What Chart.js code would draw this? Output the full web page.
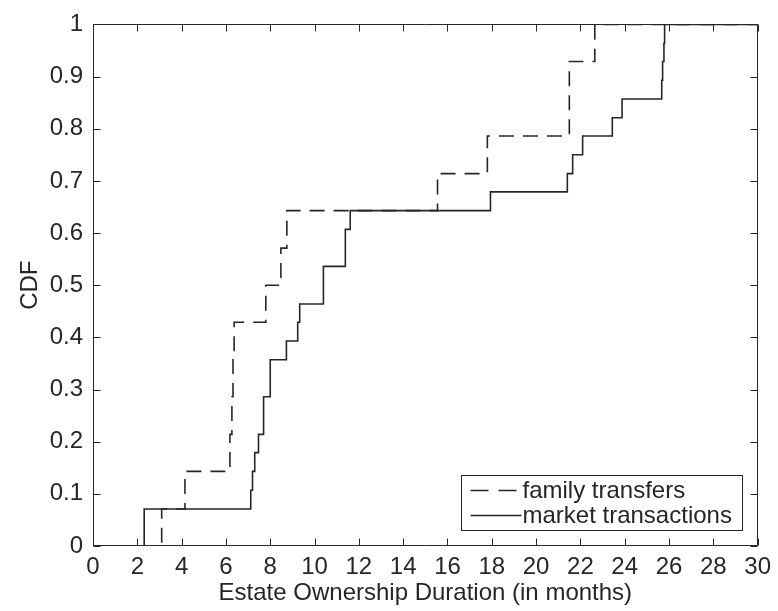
<!DOCTYPE html>
<html>
<head>
<meta charset="utf-8">
<script src="https://cdn.jsdelivr.net/npm/chart.js@4.4.1/dist/chart.umd.min.js"></script>
<style>
  body { margin: 0; background: #fff; }
</style>
</head>
<body>
<canvas id="cdfChart" width="778" height="611"></canvas>
<script>
// data
const familyMonths = [0, 3.1, 4.15, 6.18, 6.27, 6.32, 6.37, 7.8, 8.48, 8.75, 15.55, 17.8, 21.5, 22.65, 30];
const familyCdf    = [0, 0.071, 0.143, 0.214, 0.286, 0.357, 0.429, 0.5, 0.571, 0.643, 0.714, 0.786, 0.929, 1, 1];

const marketMonths = [0, 2.31, 7.12, 7.2, 7.3, 7.47, 7.7, 8.0, 8.73, 9.24, 9.33, 10.4, 11.39, 11.61,
                      17.94, 21.41, 21.65, 22.1, 23.44, 23.88, 25.67, 25.71, 25.77, 25.8, 30];
const marketCdf    = [0, 0.071, 0.107, 0.143, 0.179, 0.214, 0.286, 0.357, 0.393, 0.429, 0.464, 0.536, 0.607, 0.643,
                      0.679, 0.714, 0.75, 0.786, 0.821, 0.857, 0.893, 0.929, 0.964, 1, 1];

const xTicks = [0, 2, 4, 6, 8, 10, 12, 14, 16, 18, 20, 22, 24, 26, 28, 30];
const yTicks = [0, 0.1, 0.2, 0.3, 0.4, 0.5, 0.6, 0.7, 0.8, 0.9, 1];

const INK = '#262626';

function toPoints(xs, ys) {
  return xs.map((x, i) => ({ x: x, y: ys[i] }));
}

// box + inward ticks + legend, matlab style
const matlabAxes = {
  id: 'matlabAxes',
  afterDraw(chart) {
    const ctx = chart.ctx;
    const a = chart.chartArea;
    const xs = chart.scales.x;
    const ys = chart.scales.y;
    const tl = 7;
    const L = Math.round(a.left) + 0.5, R = Math.round(a.right) - 0.5;
    const T = Math.round(a.top) + 0.5, B = Math.round(a.bottom) - 0.5;

    ctx.save();
    ctx.setLineDash([]);
    ctx.strokeStyle = INK;
    ctx.lineWidth = 1;
    ctx.beginPath();
    ctx.rect(L, T, R - L, B - T);
    xTicks.forEach(v => {
      const px = Math.round(xs.getPixelForValue(v)) + 0.5;
      ctx.moveTo(px, B); ctx.lineTo(px, B - tl);
      ctx.moveTo(px, T); ctx.lineTo(px, T + tl);
    });
    yTicks.forEach(v => {
      const py = Math.round(ys.getPixelForValue(v)) + 0.5;
      ctx.moveTo(L, py); ctx.lineTo(L + tl, py);
      ctx.moveTo(R, py); ctx.lineTo(R - tl, py);
    });
    ctx.stroke();

    // legend box
    const bw = 281, bh = 55;
    const bx = Math.round(a.right - 16 - bw) + 0.5;
    const by = Math.round(a.bottom - 16 - bh) + 0.5;
    ctx.fillStyle = '#fff';
    ctx.fillRect(bx, by, bw, bh);
    ctx.strokeRect(bx, by, bw, bh);

    ctx.font = '24px "Liberation Sans", Arial, sans-serif';
    ctx.textBaseline = 'middle';
    ctx.textAlign = 'left';
    chart.data.datasets.forEach((ds, i) => {
      const cy = Math.round(by + 14.5 + i * 24.5) + 0.5;
      ctx.strokeStyle = ds.borderColor;
      ctx.lineWidth = ds.borderWidth;
      ctx.setLineDash(ds.borderDash ? [18, 10] : []);
      ctx.beginPath();
      ctx.moveTo(bx + 9, cy);
      ctx.lineTo(bx + 60, cy);
      ctx.stroke();
      ctx.setLineDash([]);
      ctx.fillStyle = INK;
      ctx.fillText(ds.label, bx + 61, cy + 1);
    });
    ctx.restore();
  }
};

Chart.defaults.font.family = '"Liberation Sans", Arial, sans-serif';
Chart.defaults.font.size = 24;
Chart.defaults.color = INK;

const ctx = document.getElementById('cdfChart').getContext('2d');
const cdfChart = new Chart(ctx, {
  type: 'line',
  data: {
    datasets: [
      {
        label: 'family transfers',
        data: toPoints(familyMonths, familyCdf),
        borderColor: INK,
        borderWidth: 1.6,
        borderDash: [15, 9],
        stepped: 'before',
        pointRadius: 0,
        fill: false
      },
      {
        label: 'market transactions',
        data: toPoints(marketMonths, marketCdf),
        borderColor: INK,
        borderWidth: 1.6,
        stepped: 'before',
        pointRadius: 0,
        fill: false
      }
    ]
  },
  options: {
    responsive: false,
    animation: false,
    layout: { padding: { top: 16, right: 15, left: 0, bottom: 0 } },
    plugins: {
      legend: { display: false },
      tooltip: { enabled: false }
    },
    scales: {
      x: {
        type: 'linear',
        min: 0,
        max: 30,
        grid: { display: false, drawTicks: false },
        border: { display: false },
        afterBuildTicks: (scale) => { scale.ticks = xTicks.map(v => ({ value: v })); },
        afterFit: (scale) => { scale.height = 65; },
        ticks: {
          padding: 7,
          maxRotation: 0,
          autoSkip: false,
          callback: (v) => String(v)
        },
        title: {
          display: true,
          text: 'Estate Ownership Duration (in months)',
          padding: { top: 0, bottom: 3 }
        }
      },
      y: {
        type: 'linear',
        min: 0,
        max: 1,
        grid: { display: false, drawTicks: false },
        border: { display: false },
        afterBuildTicks: (scale) => { scale.ticks = yTicks.map(v => ({ value: v })); },
        afterFit: (scale) => { scale.width = 93; },
        ticks: {
          padding: 10,
          autoSkip: false,
          callback: (v) => String(v)
        },
        title: {
          display: true,
          text: 'CDF',
          padding: { top: 16, bottom: 0 }
        }
      }
    }
  },
  plugins: [matlabAxes]
});
</script>
</body>
</html>
